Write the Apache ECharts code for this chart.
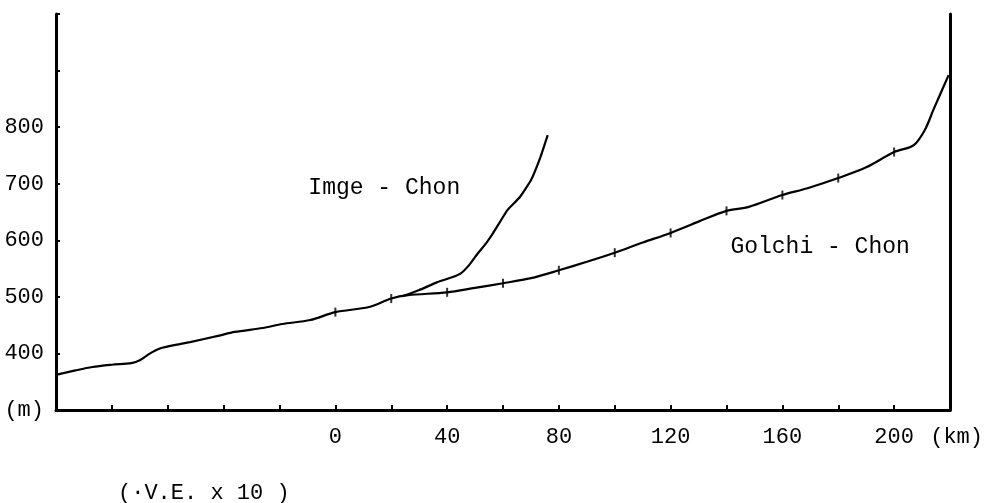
<!DOCTYPE html>
<html>
<head>
<meta charset="utf-8">
<script src="https://cdn.jsdelivr.net/npm/echarts@6/dist/echarts.min.js"></script>
<style>
  html, body { margin: 0; padding: 0; background: #fff; }
  #chart { width: 990px; height: 503px; }
</style>
</head>
<body>
<div id="chart"></div>
<script>
// longitudinal profiles, distance (km) vs elevation (m)
const golchiKm = [-100, -93, -87, -80, -73, -70, -66, -62, -52, -42, -36, -26, -19, -9, 0, 12, 20, 26, 40, 50, 60, 70, 80, 90, 100, 110, 120, 130, 140, 148, 160, 169, 180, 190, 200, 207, 211, 214, 219.5];
const golchiM = [362, 370, 376, 380, 383, 388, 401, 410, 420, 431, 438, 445, 452, 459, 473, 482, 497, 503, 508, 516, 524, 533, 547, 562, 578, 596, 613, 633, 652, 659, 680, 692, 710, 729, 756, 768, 795, 830, 892];
const imgeKm = [24, 30, 36.5, 42, 45, 48, 51, 54, 56.5, 61.5, 66, 70, 73.4, 76];
const imgeM = [501, 512, 526, 535, 542, 557, 577, 595, 613, 653, 676, 706, 747, 786];
const xTickLabels = [0, 40, 80, 120, 160, 200];
const yTickLabels = [400, 500, 600, 700, 800];

const font = '"Liberation Mono", "DejaVu Sans Mono", monospace';
const ink = '#000';

const pairs = (xs, ys) => xs.map((x, i) => [x, ys[i]]);
const golchi = pairs(golchiKm, golchiM);
const stations = golchi.filter(p => p[0] >= 0 && p[0] % 20 === 0);

const chart = echarts.init(document.getElementById('chart'));
chart.setOption({
  animation: false,
  backgroundColor: '#fff',
  title: {
    text: '(\u00b7V.E. x 10 )',
    left: 118,
    top: 482,
    padding: 0,
    textStyle: { fontFamily: font, fontSize: 22, fontWeight: 'normal', color: ink }
  },
  grid: { left: 56, right: 40, top: 14, bottom: 93 },
  xAxis: {
    type: 'value',
    min: -100,
    max: 220,
    interval: 20,
    splitLine: { show: false },
    axisLine: { onZero: false, lineStyle: { color: ink, width: 3 } },
    axisTick: { inside: true, length: 5, lineStyle: { color: ink, width: 2 } },
    axisLabel: {
      margin: 16,
      fontFamily: font,
      fontSize: 22,
      color: ink,
      showMaxLabel: true,
      formatter: v => (v === 220 ? ' (km)' : xTickLabels.includes(v) ? String(v) : '')
    }
  },
  yAxis: [
    {
      type: 'value',
      min: 300,
      max: 1000,
      interval: 100,
      splitLine: { show: false },
      axisLine: { show: true, onZero: false, lineStyle: { color: ink, width: 3 } },
      axisTick: { show: true, inside: true, length: 4, lineStyle: { color: ink, width: 2 } },
      axisLabel: {
        margin: 12,
        fontFamily: font,
        fontSize: 22,
        color: ink,
        formatter: v => (v === 300 ? '(m)' : yTickLabels.includes(v) ? String(v) : '')
      }
    },
    {
      type: 'value',
      position: 'right',
      min: 300,
      max: 1000,
      interval: 100,
      splitLine: { show: false },
      axisLine: { show: true, onZero: false, lineStyle: { color: ink, width: 3 } },
      axisTick: { show: false },
      axisLabel: { show: false }
    }
  ],
  series: [
    {
      name: 'Golchi - Chon',
      type: 'line',
      data: golchi,
      smooth: 0.3,
      symbol: 'none',
      lineStyle: { color: ink, width: 2.2 },
      markPoint: {
        symbol: 'circle',
        symbolSize: 1,
        itemStyle: { color: 'rgba(0,0,0,0)' },
        label: { show: true, position: 'inside', fontFamily: font, fontSize: 23, color: ink },
        data: [{ coord: [173.5, 588], label: { formatter: 'Golchi - Chon' } }]
      }
    },
    {
      name: 'Imge - Chon',
      type: 'line',
      data: pairs(imgeKm, imgeM),
      smooth: 0.1,
      symbol: 'none',
      lineStyle: { color: ink, width: 2.2 },
      markPoint: {
        symbol: 'circle',
        symbolSize: 1,
        itemStyle: { color: 'rgba(0,0,0,0)' },
        label: { show: true, position: 'inside', fontFamily: font, fontSize: 23, color: ink },
        data: [{ coord: [17.5, 692], label: { formatter: 'Imge - Chon' } }]
      }
    },
    {
      name: 'stations',
      type: 'scatter',
      data: stations,
      symbol: 'rect',
      symbolSize: [2, 9],
      itemStyle: { color: ink },
      silent: true
    }
  ]
});
</script>
</body>
</html>
